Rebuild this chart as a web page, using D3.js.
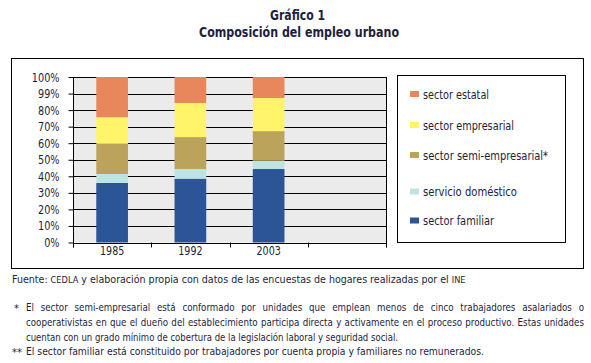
<!DOCTYPE html>
<html><head><meta charset="utf-8">
<script src="https://cdn.jsdelivr.net/npm/d3@7"></script>
<style>
html,body{margin:0;padding:0;background:#fff;}
svg{display:block;font-family:"DejaVu Sans Condensed","Liberation Sans Narrow",sans-serif;}
</style></head>
<body>
<svg id="c" width="591" height="363"></svg>
<script>
const categories = ["1985", "1992", "2003"];
const seriesNames = ["sector familiar", "servicio doméstico", "sector semi-empresarial", "sector empresarial", "sector estatal"];
const sectorFamiliar = [36.0, 38.6, 44.4];
const servicioDomestico = [5.4, 5.8, 5.0];
const sectorSemiEmpresarial = [18.2, 19.3, 17.9];
const sectorEmpresarial = [16.1, 20.6, 20.0];
const sectorEstatal = [24.3, 15.7, 12.7];
const tickValues = [0, 10, 20, 30, 40, 50, 60, 70, 80, 90, 100];
const tickLabels = ["0%", "10%", "20%", "30%", "40%", "50%", "60%", "70%", "80%", "99%", "100%"];
const legendLabels = ["sector estatal", "sector empresarial", "sector semi-empresarial*", "servicio doméstico", "sector familiar"];
const colors = ["#2B5596", "#BEE3E3", "#BBA35B", "#FFF46A", "#E8875B"];

const svg = d3.select("#c");
const txt = "#1e1e3c";

function squeeze(sel, k) {
  sel.each(function () {
    const w = this.getComputedTextLength();
    d3.select(this).attr("textLength", w * k).attr("lengthAdjust", "spacingAndGlyphs");
  });
}
function fitW(sel, w) { sel.attr("textLength", w).attr("lengthAdjust", "spacingAndGlyphs"); }
function justified(xp, yp, w, k, s) {
  const t = svg.append("text").attr("transform", `translate(${xp},${yp}) scale(${k},1)`)
    .attr("font-size", 11).attr("fill", txt).text(s);
  const nat = t.node().getComputedTextLength();
  const gaps = (s.match(/ /g) || []).length;
  t.attr("word-spacing", (w / k - nat) / gaps);
  return t;
}

// Titles
fitW(svg.append("text").attr("x", 270).attr("y", 20)
  .attr("font-size", 14).attr("font-weight", "bold").attr("fill", txt).text("Gráfico 1"), 55);
fitW(svg.append("text").attr("x", 199).attr("y", 37)
  .attr("font-size", 14).attr("font-weight", "bold").attr("fill", txt).text("Composición del empleo urbano"), 200);

// outer box
svg.append("rect").attr("x", 11.5).attr("y", 58.5).attr("width", 572).attr("height", 210)
  .attr("fill", "none").attr("stroke", "#000").attr("stroke-width", 1);

const pL = 73, pR = 386, pT = 77, pB = 242.5;
const x = d3.scaleBand().domain(categories.concat([""])).range([pL, pR]).paddingInner(0).paddingOuter(0);
const y = d3.scaleLinear().domain([0, 100]).range([pB, pT]);

svg.append("rect").attr("x", pL).attr("y", pT).attr("width", pR - pL).attr("height", pB - pT).attr("fill", "#EBEBEB");

// gridlines
svg.append("g").selectAll("line").data(tickValues).join("line")
  .attr("x1", pL).attr("x2", pR)
  .attr("y1", d => Math.round(y(d)) + 0.5).attr("y2", d => Math.round(y(d)) + 0.5)
  .attr("stroke", "#000").attr("stroke-width", 1);

// stacked bars
const table = categories.map((c, i) => ({
  cat: c,
  "sector familiar": sectorFamiliar[i],
  "servicio doméstico": servicioDomestico[i],
  "sector semi-empresarial": sectorSemiEmpresarial[i],
  "sector empresarial": sectorEmpresarial[i],
  "sector estatal": sectorEstatal[i]
}));
const stack = d3.stack().keys(seriesNames)(table);
const bw = x.bandwidth() * 0.405;
svg.append("g").selectAll("g").data(stack).join("g").attr("fill", (d, i) => colors[i])
  .selectAll("rect").data(d => d).join("rect")
  .attr("x", d => x(d.data.cat) + (x.bandwidth() - bw) / 2)
  .attr("width", bw)
  .attr("y", d => y(d[1]))
  .attr("height", d => y(d[0]) - y(d[1]));

// right border
svg.append("line").attr("x1", pR + 0.5).attr("x2", pR + 0.5).attr("y1", pT).attr("y2", pB + 5)
  .attr("stroke", "#000");

// y axis
const yAxis = d3.axisLeft(y).tickValues(tickValues).tickFormat((d, i) => tickLabels[i]).tickSize(5).tickPadding(9);
const gy = svg.append("g").attr("transform", `translate(${pL + 0.5},0)`).call(yAxis);
gy.select(".domain").attr("stroke", "#000").attr("d", `M0,${pT}V${pB + 5}`);
gy.selectAll(".tick line").attr("stroke", "#000");
gy.selectAll(".tick text").attr("font-size", 12.5).attr("fill", txt)
  .attr("font-family", "'DejaVu Sans Condensed',sans-serif");
squeeze(gy.selectAll(".tick text"), 0.86);

// x axis
const xAxis = d3.axisBottom(x).tickSize(0).tickPadding(4);
const gx = svg.append("g").attr("transform", `translate(0,${pB})`).call(xAxis);
gx.select(".domain").remove();
gx.selectAll(".tick text").attr("font-size", 12.5).attr("fill", txt)
  .attr("font-family", "'DejaVu Sans Condensed',sans-serif");
squeeze(gx.selectAll(".tick text"), 0.85);
const bounds = x.domain().map(d => x(d)).concat([pR]);
svg.append("g").selectAll("line").data(bounds).join("line")
  .attr("x1", d => Math.round(d) + 0.5).attr("x2", d => Math.round(d) + 0.5)
  .attr("y1", pB).attr("y2", pB + 5).attr("stroke", "#000");

// legend
svg.append("rect").attr("x", 397.5).attr("y", 75.5).attr("width", 168).attr("height", 167)
  .attr("fill", "#fff").attr("stroke", "#000");
const legY = [94, 125, 155, 191.5, 220.5];
const legW = [66, 91, 125, 94, 71];
const legColors = colors.slice().reverse();
const lg = svg.append("g").selectAll("g").data(legendLabels).join("g")
  .attr("transform", (d, i) => `translate(410,${legY[i]})`);
lg.append("rect").attr("x", 0).attr("y", -3).attr("width", 9).attr("height", 6).attr("fill", (d, i) => legColors[i]);
lg.append("text").attr("x", 13).attr("y", 4.5).attr("font-size", 13).attr("fill", txt).text(d => d)
  .attr("textLength", (d, i) => legW[i]).attr("lengthAdjust", "spacingAndGlyphs");

// footnotes
const fs = 11;
const f = svg.append("text").attr("font-size", fs).attr("fill", txt);
f.append("tspan").text("Fuente: ");
f.append("tspan").attr("font-size", 9.5).text("CEDLA");
f.append("tspan").text(" y elaboración propia con datos de las encuestas de hogares realizadas por el ");
f.append("tspan").attr("font-size", 9.5).text("INE");
const fNat = f.node().getComputedTextLength();
f.attr("transform", `translate(12,283) scale(${454 / fNat},1)`);

svg.append("text").attr("x", 14).attr("y", 312).attr("font-size", fs).attr("fill", txt).text("*");
justified(26, 311, 558, 0.88, "El sector semi-empresarial está conformado por unidades que emplean menos de cinco trabajadores asalariados o");
justified(26, 326, 558, 0.88, "cooperativistas en que el dueño del establecimiento participa directa y activamente en el proceso productivo. Estas unidades");
fitW(svg.append("text").attr("x", 26).attr("y", 340.5).attr("font-size", fs).attr("fill", txt)
  .text("cuentan con un grado mínimo de cobertura de la legislación laboral y seguridad social."), 372);
svg.append("text").attr("x", 12).attr("y", 356).attr("font-size", fs).attr("fill", txt).text("**");
fitW(svg.append("text").attr("x", 26).attr("y", 355).attr("font-size", fs).attr("fill", txt)
  .text("El sector familiar está constituido por trabajadores por cuenta propia y familiares no remunerados."), 458);
</script>
</body></html>
